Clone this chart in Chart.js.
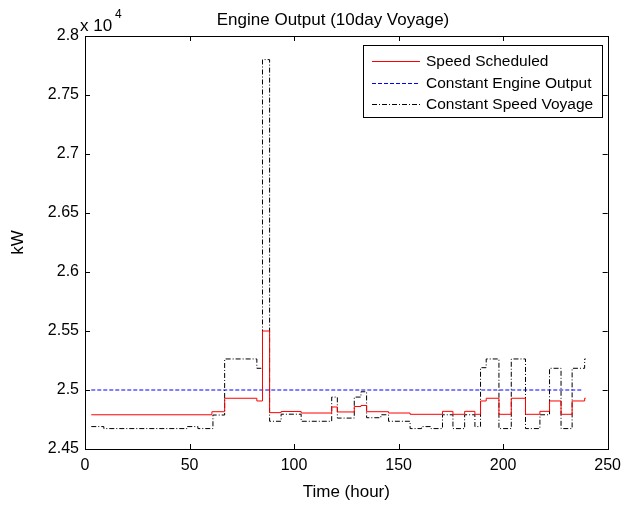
<!DOCTYPE html>
<html><head><meta charset="utf-8">
<script src="https://cdn.jsdelivr.net/npm/chart.js@4.4.1/dist/chart.umd.min.js"></script>
<style>html,body{margin:0;padding:0;background:#fff;} #wrap{position:relative;width:628px;height:507px;}</style>
</head><body><div id="wrap"><canvas id="c" width="628" height="507"></canvas></div>
<script>
const chartTitle = 'Engine Output (10day Voyage)';
const xTitle = 'Time (hour)';
const yTitle = 'kW';
const xTicks = [0, 50, 100, 150, 200, 250];
const yTicks = [24500, 25000, 25500, 26000, 26500, 27000, 27500, 28000];
const seriesNames = ['Speed Scheduled', 'Constant Engine Output', 'Constant Speed Voyage'];

// step series: each value holds from its hour until the next hour
const speedHours = [3, 60.7, 66.8, 82.2, 84.9, 88.3, 93.8, 103.4, 118, 120.7, 128.8, 132, 134.7, 145.2, 155.5, 171, 176, 181.6, 186.5, 189.2, 191.9, 198, 203.9, 210.7, 217.6, 222.2, 227.7, 233, 239, 239.5];
const speedKW = [24790, 24816, 24930, 24907, 25500, 24808, 24818, 24805, 24856, 24814, 24860, 24869, 24816, 24805, 24794, 24819, 24794, 24819, 24794, 24907, 24930, 24794, 24930, 24794, 24819, 24907, 24794, 24907, 24930, 24930];

const constHours = [3, 238];
const constKW = [25000, 25000];

const csvHours = [3, 9, 48.8, 54, 61.2, 66.8, 82.2, 84.9, 88.3, 93.8, 103.4, 118, 120.7, 128.8, 132, 134.7, 141.5, 145.2, 155.5, 161, 165.5, 171, 176, 181.6, 186.5, 189.2, 191.9, 198, 203.9, 210.7, 217.6, 222.2, 227.7, 233, 239, 239.5];
const csvKW = [24690, 24673, 24690, 24673, 24788, 25263, 25184, 27800, 24735, 24795, 24735, 24940, 24762, 24940, 24985, 24765, 24790, 24735, 24673, 24690, 24673, 24790, 24673, 24790, 24690, 25189, 25263, 24673, 25263, 24673, 24790, 25184, 24673, 25184, 25263, 25263];

const styles = [
  {color: 'rgb(255,0,0)', dash: []},
  {color: 'rgb(0,0,255)', dash: [4, 2]},
  {color: 'rgb(0,0,0)', dash: [5, 2, 1, 2]}
];

function pts(xs, ys) { return xs.map((x, i) => ({x: x, y: ys[i]})); }

const FONT = '"Liberation Sans", Arial, sans-serif';
Chart.defaults.font.family = FONT;
Chart.defaults.color = '#000';

function sampleLine(ctx, x0, x1, y, color, dash) {
  ctx.fillStyle = color;
  if (!dash.length) { ctx.fillRect(x0, y, x1 - x0, 1); return; }
  let x = x0, k = 0;
  while (x < x1) {
    const len = dash[k % dash.length];
    if (k % 2 === 0) ctx.fillRect(x, y, Math.min(len, x1 - x), 1);
    x += len; k++;
  }
}

const frameAndLegend = {
  id: 'frameAndLegend',
  afterDraw(chart) {
    const ctx = chart.ctx, a = chart.chartArea;
    const xs = chart.scales.x, ys = chart.scales.y;
    ctx.save();
    ctx.strokeStyle = '#000';
    ctx.lineWidth = 1;
    ctx.setLineDash([]);
    ctx.strokeRect(Math.round(a.left) + 0.5, Math.round(a.top) + 0.5, Math.round(a.right - a.left), Math.round(a.bottom - a.top));
    const tl = 5;
    ctx.beginPath();
    xTicks.forEach(v => {
      const px = Math.round(xs.getPixelForValue(v)) + 0.5;
      ctx.moveTo(px, a.bottom); ctx.lineTo(px, a.bottom - tl);
      ctx.moveTo(px, a.top); ctx.lineTo(px, a.top + tl);
    });
    yTicks.forEach(v => {
      const py = Math.round(ys.getPixelForValue(v)) + 0.5;
      ctx.moveTo(a.left, py); ctx.lineTo(a.left + tl, py);
      ctx.moveTo(a.right, py); ctx.lineTo(a.right - tl, py);
    });
    ctx.stroke();

    ctx.fillStyle = '#000';
    ctx.textBaseline = 'middle';
    ctx.textAlign = 'center';
    ctx.font = '17px ' + FONT;
    ctx.fillText(chartTitle, 333, 20);
    ctx.textAlign = 'left';
    ctx.font = '17px ' + FONT;
    ctx.fillText('x 10', 80, 26);
    ctx.font = '12px ' + FONT;
    ctx.fillText('4', 115, 15);

    // legend
    const lx = 363, ly = 45, lw = 239, lh = 72;
    ctx.fillStyle = '#fff';
    ctx.fillRect(lx, ly, lw, lh);
    ctx.strokeStyle = '#000';
    ctx.strokeRect(lx + 0.5, ly + 0.5, lw, lh);
    ctx.font = '15.5px ' + FONT;
    seriesNames.forEach((name, i) => {
      const y = Math.round(ly + 16 + i * 21.5);
      sampleLine(ctx, 372, 420, y, styles[i].color, styles[i].dash);
      ctx.fillStyle = '#000';
      ctx.fillText(name, 426, y + 1);
    });
    ctx.restore();
  }
};

new Chart(document.getElementById('c'), {
  type: 'line',
  data: {
    datasets: [
      {label: seriesNames[0], data: pts(speedHours, speedKW)},
      {label: seriesNames[1], data: pts(constHours, constKW)},
      {label: seriesNames[2], data: pts(csvHours, csvKW)}
    ].map((d, i) => Object.assign(d, {
      borderColor: styles[i].color, borderDash: styles[i].dash, borderWidth: 1,
      pointRadius: 0, stepped: 'before', fill: false, tension: 0
    }))
  },
  options: {
    responsive: false,
    animation: false,
    layout: {padding: {left: 0, right: 19, top: 36, bottom: 0}},
    plugins: {
      legend: {display: false},
      tooltip: {enabled: false},
      title: {display: false}
    },
    scales: {
      x: {
        type: 'linear', min: 0, max: 250,
        afterBuildTicks: s => { s.ticks = xTicks.map(v => ({value: v})); },
        ticks: {font: {size: 16}, padding: 7, maxRotation: 0, autoSkip: false},
        grid: {display: false, drawTicks: false},
        border: {display: false},
        title: {display: true, text: xTitle, font: {size: 17}, padding: {top: 0, bottom: 4}},
        afterFit: s => { s.height = 58; }
      },
      y: {
        type: 'linear', min: 24500, max: 28000,
        afterBuildTicks: s => { s.ticks = yTicks.map(v => ({value: v})); },
        ticks: {font: {size: 16}, padding: 6, callback: v => String(+(v / 10000).toFixed(4))},
        grid: {display: false, drawTicks: false},
        border: {display: false},
        title: {display: true, text: yTitle, font: {size: 17}, padding: {top: 8, bottom: 0}},
        afterFit: s => { s.width = 85; }
      }
    }
  },
  plugins: [frameAndLegend]
});
</script>
</body></html>
